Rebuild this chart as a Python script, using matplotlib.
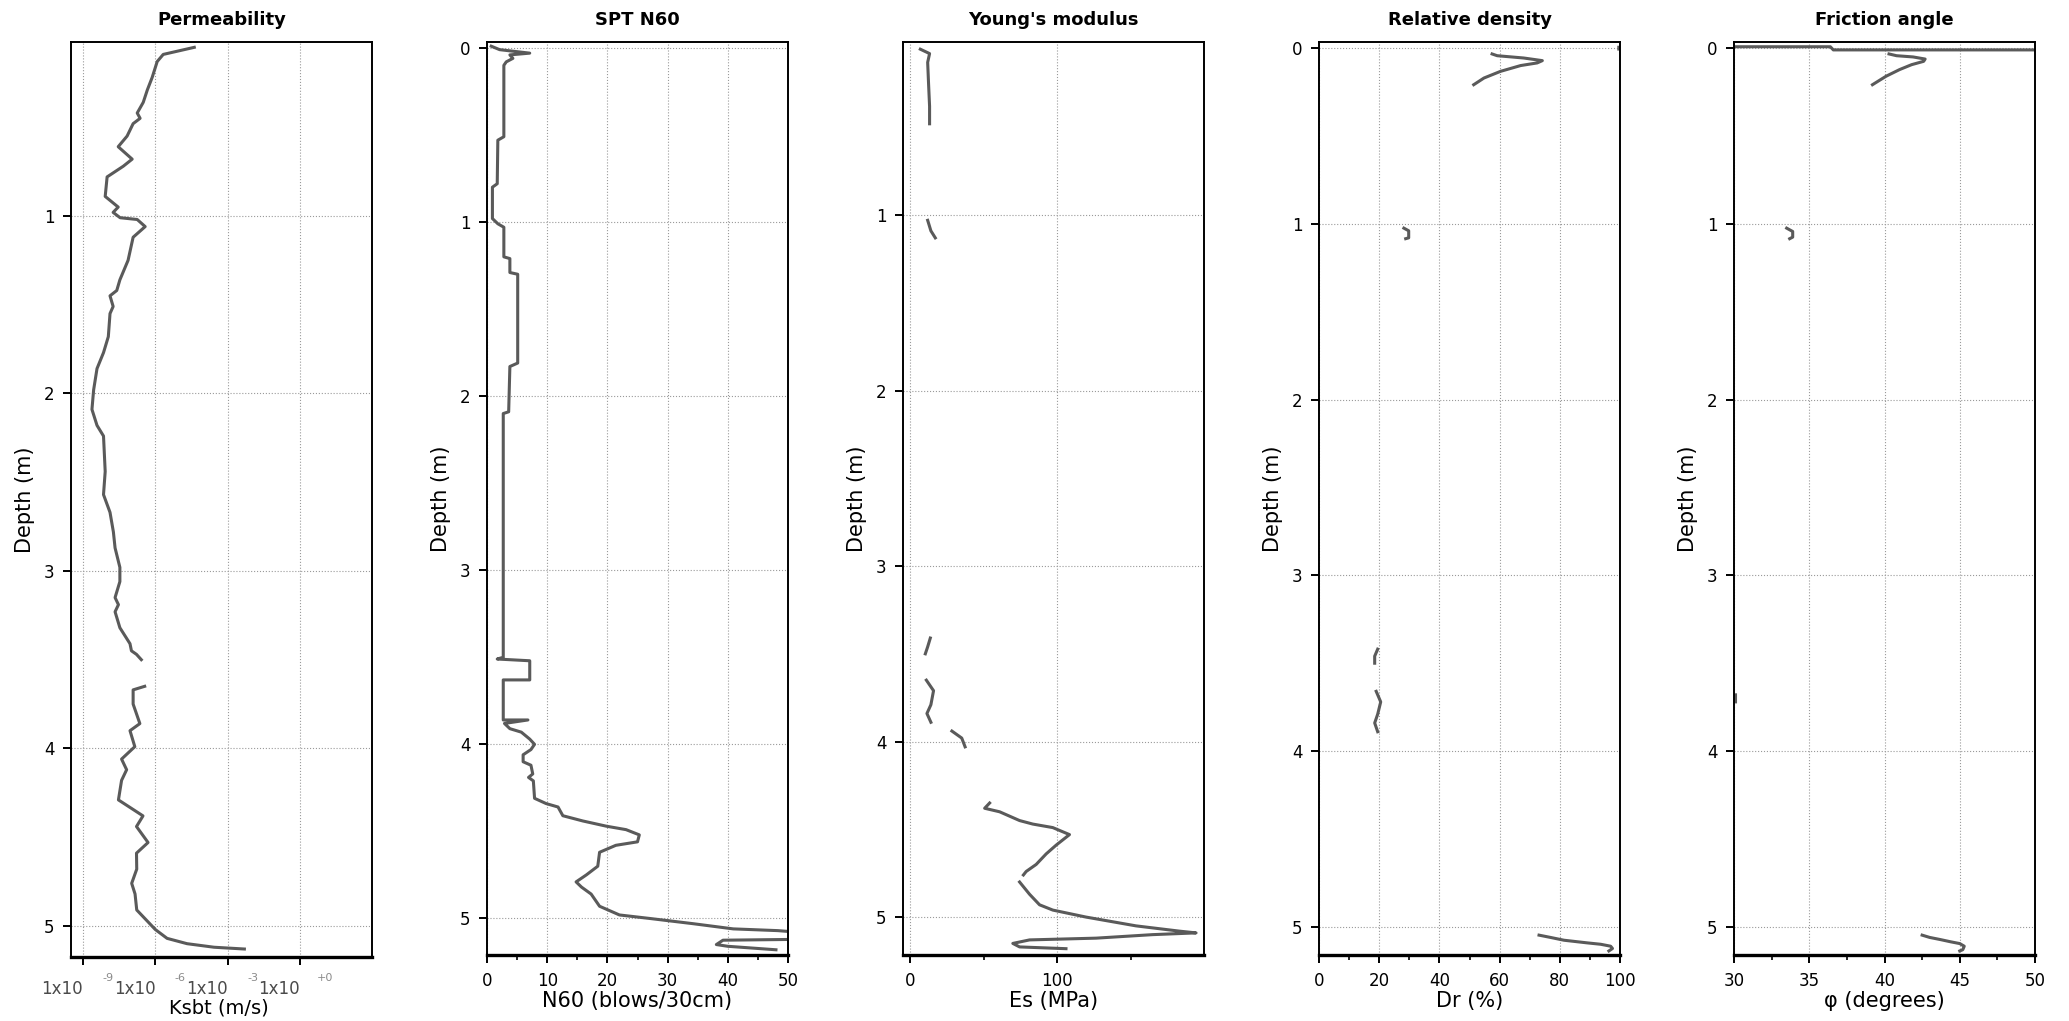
import numpy as np
import matplotlib.pyplot as plt
from matplotlib.ticker import MultipleLocator, FixedLocator, NullFormatter

nan = np.nan

# ---------------------------------------------------------------------
# Data (depth in m)
# ---------------------------------------------------------------------
permDepth = [0.05, 0.09, 0.13, 0.22, 0.29, 0.36, 0.42, 0.45, 0.48, 0.55,
             0.61, 0.68, 0.72, 0.78, 0.89, 0.95, 0.98, 1.01, 1.02, 1.06,
             1.12, 1.25, 1.36, 1.42, 1.45, 1.51, 1.55, 1.68, 1.77, 1.86,
             1.98, 2.09, 2.18, 2.24, 2.44, 2.57, 2.67, 2.78, 2.87, 2.98,
             3.06, 3.15, 3.19, 3.23, 3.32, 3.41, 3.45, 3.47, 3.50, nan,
             3.65, 3.67, 3.75, 3.86, 3.90, 3.99, 4.06, 4.12, 4.18, 4.29,
             4.38, 4.44, 4.53, 4.59, 4.68, 4.76, 4.82, 4.91, 4.97, 5.02,
             5.07, 5.10, 5.12, 5.13]
permLogK = [-4.38, -5.67, -5.92, -6.13, -6.33, -6.50, -6.75, -6.63, -6.92, -7.17,
            -7.54, -6.96, -7.33, -8.00, -8.08, -7.54, -7.75, -7.46, -6.75, -6.42,
            -6.92, -7.13, -7.47, -7.60, -7.88, -7.75, -7.88, -7.95, -8.15, -8.42,
            -8.56, -8.63, -8.42, -8.15, -8.08, -8.15, -7.88, -7.74, -7.67, -7.47,
            -7.47, -7.67, -7.53, -7.67, -7.47, -7.05, -6.99, -6.78, -6.58, nan,
            -6.44, -6.92, -6.92, -6.64, -7.05, -6.85, -7.40, -7.19, -7.40, -7.53,
            -6.51, -6.78, -6.30, -6.78, -6.77, -6.98, -6.84, -6.77, -6.35, -6.00,
            -5.51, -4.68, -3.56, -2.30]

sptDepth = [-0.01, 0.01, 0.03, 0.04, 0.06, 0.08, 0.10, 0.51, 0.53, 0.78,
            0.80, 0.98, 1.01, 1.03, 1.20, 1.21, 1.29, 1.30, 1.81, 1.83,
            2.09, 2.10, 3.50, 3.51, 3.52, 3.63, 3.63, 3.86, 3.86, 3.88,
            3.91, 3.93, 3.97, 4.00, 4.03, 4.06, 4.10, 4.12, 4.17, 4.19,
            4.21, 4.31, 4.34, 4.36, 4.41, 4.44, 4.47, 4.49, 4.52, 4.56,
            4.58, 4.62, 4.70, 4.75, 4.79, 4.82, 4.86, 4.93, 4.98, 5.00,
            5.03, 5.06, 5.07, 5.08, 5.12, 5.125, 5.15, 5.16, 5.18]
sptN60 = [0.7, 2.1, 7.1, 3.8, 4.3, 3.2, 2.8, 2.8, 1.8, 1.7,
          0.9, 0.9, 1.8, 2.8, 2.8, 3.8, 3.8, 5.1, 5.1, 3.8,
          3.6, 2.7, 2.7, 1.7, 7.1, 7.1, 2.7, 2.7, 6.8, 2.9,
          3.8, 5.7, 7.1, 7.9, 7.3, 6.0, 6.0, 7.3, 7.6, 6.9,
          7.7, 7.9, 9.8, 11.8, 12.6, 15.9, 19.8, 23.1, 25.3, 25.0,
          21.4, 18.7, 18.4, 16.5, 14.8, 15.7, 17.3, 18.7, 22.0, 27.0,
          34.2, 40.9, 48.3, 52.0, 52.0, 39.2, 38.1, 40.0, 48.0]

esDepth = [0.055, 0.08, 0.13, 0.25, 0.38, 0.48, nan,
           1.03, 1.09, 1.13, nan,
           3.41, 3.46, 3.50, nan,
           3.65, 3.71, 3.79, 3.84, 3.89, nan,
           3.94, 3.98, 4.03, nan,
           4.35, 4.38, 4.40, 4.45, 4.47, 4.49, 4.53, 4.59, 4.64, 4.70,
           4.74, 4.76, nan,
           4.80, 4.87, 4.93, 4.96, 5.00, 5.05, 5.08, 5.09, 5.10, 5.12,
           5.13, 5.15, 5.17, 5.18]
esMPa = [6.8, 13.1, 11.8, 12.4, 13.1, 13.1, nan,
         11.8, 14.0, 17.0, nan,
         13.6, 11.8, 10.2, nan,
         10.9, 15.8, 14.0, 11.3, 14.0, nan,
         28.3, 35.0, 37.3, nan,
         54.0, 50.6, 60.8, 74.4, 83.4, 97.0, 108.4, 99.3, 92.5, 85.7,
         78.9, 77.0, nan,
         74.4, 81.2, 88.0, 97.0, 119.7, 153.7, 183.2, 194.6, 165.0, 126.5,
         81.2, 69.8, 74.4, 106.0]

drDepth = [-0.004, 0.006, nan,
           0.034, 0.044, 0.057, 0.072, 0.085, 0.10, 0.133, 0.171, 0.209, nan,
           1.025, 1.04, 1.08, 1.085, nan,
           3.42, 3.46, 3.50, nan,
           3.66, 3.72, 3.79, 3.84, 3.89, nan,
           5.047, 5.06, 5.076, 5.091, 5.099, 5.11, 5.123, 5.137]
drPct = [99.6, 99.6, nan,
         57.5, 59.2, 68.0, 74.2, 72.5, 67.0, 60.3, 54.8, 51.4, nan,
         28.2, 29.8, 29.8, 28.8, nan,
         19.5, 18.5, 18.5, nan,
         19.0, 20.5, 19.5, 18.5, 19.5, nan,
         73.1, 76.9, 81.4, 89.1, 93.6, 96.9, 97.5, 96.3]

phiDepth = [-0.007, -0.007, 0.011, 0.011, nan,
            0.034, 0.044, 0.051, 0.063, 0.076, 0.095, 0.123, 0.161, 0.209, nan,
            1.025, 1.044, 1.076, 1.085, nan,
            3.68, 3.72, nan,
            5.047, 5.06, 5.072, 5.085, 5.095, 5.11, 5.13, 5.137]
phiDeg = [30.0, 36.4, 36.6, 50.0, nan,
          40.3, 40.8, 41.9, 42.7, 42.6, 41.8, 41.0, 40.1, 39.2, nan,
          33.5, 33.9, 33.9, 33.7, nan,
          30.1, 30.1, nan,
          42.5, 43.0, 43.7, 44.4, 45.0, 45.3, 45.2, 45.0]

kTicks = [1e-9, 1e-6, 1e-3, 1e0]
kExponents = ['-9', '-6', '-3', '+0']


def styleAxis(ax, title, xlabel, ylim, yticks):
    lineColor = '#5a5a5a'
    ax.set_ylim(ylim)
    ax.yaxis.set_major_locator(FixedLocator(yticks))
    ax.set_title(title, fontsize=13, fontweight='bold', pad=12)
    ax.set_xlabel(xlabel, fontsize=15, labelpad=1)
    ax.set_ylabel('Depth (m)', fontsize=15, labelpad=6)
    ax.grid(True, which='major', linestyle=':', color='#9a9a9a', linewidth=0.8)
    ax.set_axisbelow(True)
    for side in ['left', 'right', 'top']:
        ax.spines[side].set_linewidth(1.4)
    ax.spines['bottom'].set_linewidth(2.4)
    ax.tick_params(axis='both', which='major', direction='out', length=6,
                   width=1.4, labelsize=12, pad=6)
    ax.tick_params(axis='x', which='minor', direction='out', length=3.5, width=1.2)
    return lineColor


def main():
    fig = plt.figure(figsize=(20.69, 10.21), dpi=100)
    W, H = 2069.0, 1021.0
    lineWidth = 2.2
    #---------------------------------------------------------------------
    # panel geometry (pixels of the original picture)
    #---------------------------------------------------------------------
    lefts = [71, 487, 903, 1319, 1734]
    bottoms = [957, 955, 955, 955, 955]
    top = 42
    width = 301
    axesList = []
    for left, bottom in zip(lefts, bottoms):
        axesList.append(fig.add_axes([left / W, 1 - bottom / H,
                                      width / W, (bottom - top) / H]))
    #------------- Permeability
    ax = axesList[0]
    color = styleAxis(ax, 'Permeability', ' ', (5.175, 0.02), [1, 2, 3, 4, 5])
    ax.set_xscale('log')
    ax.plot(10 ** np.array(permLogK), permDepth, color=color, linewidth=lineWidth)
    ax.set_xlim(10 ** -9.5, 10 ** 3.0)
    ax.xaxis.set_major_locator(FixedLocator(kTicks))
    ax.xaxis.set_minor_locator(FixedLocator([]))
    ax.xaxis.set_major_formatter(NullFormatter())
    for tick, exponent in zip(kTicks, kExponents):
        ax.annotate('1x10', xy=(tick, 0), xycoords=('data', 'axes fraction'),
                    xytext=(-15, -23), textcoords='offset points',
                    ha='center', va='center', fontsize=12, color='#4a4a4a')
        ax.annotate(exponent, xy=(tick, 0), xycoords=('data', 'axes fraction'),
                    xytext=(18, -15), textcoords='offset points',
                    ha='center', va='center', fontsize=8, color='#8a8a8a')
    ax.annotate('Ksbt (m/s)', xy=(0.5, 0), xycoords='axes fraction',
                xytext=(-2, -37), textcoords='offset points',
                ha='center', va='center', fontsize=14)
    #------------- SPT N60
    ax = axesList[1]
    color = styleAxis(ax, 'SPT N60', 'N60 (blows/30cm)', (5.21, -0.034),
                      [0, 1, 2, 3, 4, 5])
    ax.plot(sptN60, sptDepth, color=color, linewidth=lineWidth)
    ax.set_xlim(0, 50)
    ax.xaxis.set_major_locator(MultipleLocator(10))
    ax.xaxis.set_minor_locator(MultipleLocator(5))
    #------------- Young's modulus
    ax = axesList[2]
    color = styleAxis(ax, "Young's modulus", 'Es (MPa)', (5.216, 0.014),
                      [1, 2, 3, 4, 5])
    ax.plot(esMPa, esDepth, color=color, linewidth=lineWidth)
    ax.set_xlim(-5, 200)
    ax.xaxis.set_major_locator(FixedLocator([0, 100]))
    ax.xaxis.set_minor_locator(FixedLocator([50, 150]))
    #------------- Relative density
    ax = axesList[3]
    color = styleAxis(ax, 'Relative density', 'Dr (%)', (5.16, -0.034),
                      [0, 1, 2, 3, 4, 5])
    ax.plot(drPct, drDepth, color=color, linewidth=lineWidth)
    ax.set_xlim(0, 100)
    ax.xaxis.set_major_locator(MultipleLocator(20))
    ax.xaxis.set_minor_locator(MultipleLocator(10))
    #------------- Friction angle
    ax = axesList[4]
    color = styleAxis(ax, 'Friction angle', 'φ (degrees)', (5.16, -0.034),
                      [0, 1, 2, 3, 4, 5])
    ax.plot(phiDeg, phiDepth, color=color, linewidth=lineWidth)
    ax.set_xlim(30, 50)
    ax.xaxis.set_major_locator(MultipleLocator(5))
    ax.xaxis.set_minor_locator(MultipleLocator(2.5))
    #---------------------------------------------------------------------
    fig.savefig('out.png', dpi=100)


if __name__ == "__main__":
    main()
